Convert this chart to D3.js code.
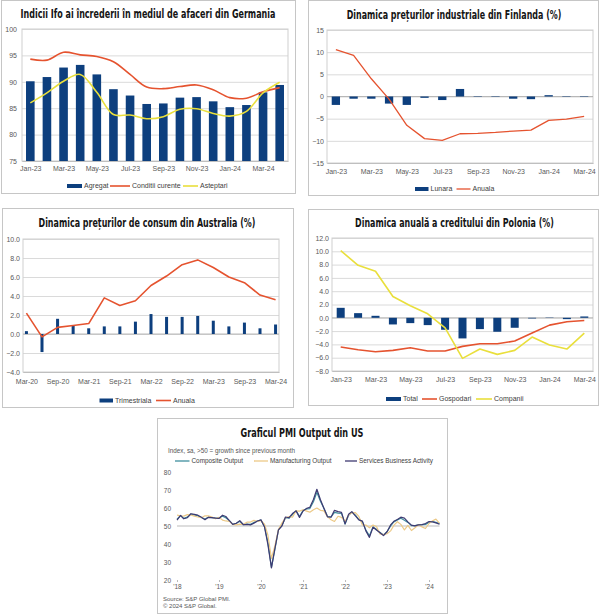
<!DOCTYPE html>
<html><head><meta charset="utf-8">
<script src="https://cdn.jsdelivr.net/npm/d3@7"></script>
<style>body{margin:0;background:#fff;} svg{display:block;font-family:"Liberation Sans",Arial,sans-serif;}</style>
</head><body><svg id="c" width="600" height="614"></svg>
<script>
// ---------- DATA ----------
// Germany (Ifo)
const deMonths = ["Jan-23","Feb-23","Mar-23","Apr-23","May-23","Jun-23","Jul-23","Aug-23","Sep-23","Oct-23","Nov-23","Dec-23","Jan-24","Feb-24","Mar-24","Apr-24"];
const deAgregat = [90.1, 90.9, 92.7, 93.2, 91.4, 88.6, 87.4, 85.8, 85.9, 87.0, 87.1, 86.3, 85.2, 85.6, 88.0, 89.4];
const deConditii = [94.3, 94.1, 95.6, 95.1, 94.8, 93.8, 91.4, 89.0, 88.7, 89.1, 89.4, 88.5, 87.0, 86.9, 88.1, 88.9];
const deAsteptari = [86.0, 87.9, 90.1, 91.4, 88.0, 83.8, 83.7, 83.0, 83.4, 84.8, 84.9, 84.0, 83.5, 84.4, 87.9, 89.9];
const deYTicks = [75, 80, 85, 90, 95, 100];

// Finland industrial prices
const fiMonths = ["Jan-23","Feb-23","Mar-23","Apr-23","May-23","Jun-23","Jul-23","Aug-23","Sep-23","Oct-23","Nov-23","Dec-23","Jan-24","Feb-24","Mar-24"];
const fiLunara = [-1.9, -0.5, -0.5, -1.6, -1.9, -0.3, -0.8, 1.7, -0.1, -0.1, -0.5, -0.6, 0.3, -0.1, -0.1];
const fiAnuala = [10.6, 9.3, 4.0, -0.6, -6.5, -9.5, -9.9, -8.4, -8.3, -8.1, -7.8, -7.6, -5.4, -5.1, -4.5];
const fiYTicks = [-15, -10, -5, 0, 5, 10, 15];

// Australia CPI
const auQuarters = ["Mar-20","Jun-20","Sep-20","Dec-20","Mar-21","Jun-21","Sep-21","Dec-21","Mar-22","Jun-22","Sep-22","Dec-22","Mar-23","Jun-23","Sep-23","Dec-23","Mar-24"];
const auTrimestriala = [0.3, -1.9, 1.6, 0.9, 0.6, 0.8, 0.8, 1.3, 2.1, 1.8, 1.8, 1.9, 1.4, 0.8, 1.2, 0.6, 1.0];
const auAnuala = [2.2, -0.3, 0.7, 0.9, 1.1, 3.8, 3.0, 3.5, 5.1, 6.1, 7.3, 7.8, 7.0, 6.0, 5.4, 4.1, 3.6];
const auYTicks = [-4, -2, 0, 2, 4, 6, 8, 10];

// Poland credit
const plMonths = ["Jan-23","Feb-23","Mar-23","Apr-23","May-23","Jun-23","Jul-23","Aug-23","Sep-23","Oct-23","Nov-23","Dec-23","Jan-24","Feb-24","Mar-24"];
const plTotal = [1.5, 0.7, 0.3, -1.0, -0.8, -1.1, -1.8, -3.1, -1.7, -2.1, -1.5, -0.1, 0.05, -0.2, 0.2];
const plGospodari = [-4.4, -4.8, -5.1, -4.9, -4.5, -5.0, -5.0, -4.3, -3.9, -3.9, -3.5, -2.3, -1.1, -0.6, -0.4];
const plCompanii = [10.1, 7.9, 7.0, 3.2, 1.8, 0.6, -1.5, -6.1, -4.7, -5.5, -4.9, -2.9, -4.1, -4.7, -2.3];
const plYTicks = [-8, -6, -4, -2, 0, 2, 4, 6, 8, 10, 12];

// US PMI (monthly, Jan 2018 - Apr 2024)
const pmiStart = new Date(2018, 0, 1);
const pmiComposite = [
 53.8,55.8,54.2,54.9,56.6,56.2,55.7,54.7,53.9,54.9,54.7,54.4,
 54.4,55.5,54.6,53.0,50.9,51.5,52.6,50.7,51.0,50.9,52.0,52.7,
 53.3,49.6,40.9,27.0,37.0,47.9,50.3,54.6,54.3,56.3,58.6,55.3,
 58.7,59.5,59.7,63.5,68.7,63.7,59.9,55.4,55.0,57.6,57.2,57.0,
 51.1,55.9,57.7,56.0,53.6,52.3,47.7,44.6,49.5,48.2,46.4,45.0,
 46.8,50.1,52.3,53.4,54.3,53.2,52.0,50.2,50.2,50.7,50.7,50.9,
 52.0,52.5,52.1,51.3];
const pmiManufacturing = [
 56.0,55.7,55.5,56.3,56.2,55.5,55.0,54.6,55.7,55.6,55.0,54.0,
 54.8,53.3,52.8,52.6,50.9,50.6,51.0,50.9,52.1,52.2,53.1,52.5,
 52.9,51.0,45.0,32.0,39.0,48.0,51.6,54.6,55.2,54.9,58.4,58.3,
 59.0,58.3,57.7,59.0,60.0,58.7,58.4,55.2,53.5,52.5,55.4,54.8,
 52.6,56.1,57.3,57.4,55.3,50.6,50.5,49.0,50.5,49.7,45.6,45.2,
 45.7,47.3,50.3,52.4,50.9,47.8,50.3,47.5,49.0,50.7,49.5,48.6,
 51.4,52.9,53.8,51.5];
const pmiServices = [
 53.3,55.9,54.0,54.6,56.8,56.5,56.0,54.8,53.5,54.8,54.7,54.4,
 54.2,56.0,55.3,53.0,50.9,51.5,53.0,50.7,50.9,50.6,51.6,52.8,
 53.4,49.4,39.8,26.7,37.5,47.9,50.0,55.0,54.6,56.9,58.4,54.8,
 58.3,59.8,60.4,64.7,70.4,64.6,59.9,55.1,54.9,58.7,58.0,57.6,
 51.2,56.5,58.0,55.6,53.4,52.7,47.3,43.7,49.3,47.8,46.2,44.7,
 46.8,50.6,52.6,53.6,54.9,54.4,52.3,50.5,50.1,50.6,50.8,51.4,
 52.5,52.3,51.7,51.0];
const pmiYTicks = [20, 30, 40, 50, 60, 70, 80];
const pmiYearLabels = ["'18","'19","'20","'21","'22","'23","'24"];

// ---------- DRAW ----------
const svg = d3.select("#c");
const NAVY = "#0d3f7e", RED = "#e5532f", YEL = "#e9df3c";
const TITLE_FONT = "'Liberation Sans Narrow','Arial Narrow','DejaVu Sans Condensed',sans-serif";

function frame(box){
  svg.append("rect").attr("x",box[0]).attr("y",box[1]).attr("width",box[2]).attr("height",box[3])
    .attr("fill","#fff").attr("stroke","#c6c6c6");
}
function title(txt, x, y, len){
  const t = svg.append("text").attr("x",0).attr("y",0).attr("text-anchor","middle")
    .attr("font-family",TITLE_FONT).attr("font-weight","bold").attr("font-size",12.5)
    .attr("fill","#151515").text(txt);
  const w = t.node().getComputedTextLength();
  t.attr("transform",`translate(${x},${y}) scale(${len/w},1)`);
}
function legend(items, y){
  items.forEach(it=>{
    if(it.type==="bar"){
      svg.append("rect").attr("x",it.x0).attr("y",y-2).attr("width",it.x1-it.x0).attr("height",4).attr("fill",it.color);
    } else {
      svg.append("line").attr("x1",it.x0).attr("x2",it.x1).attr("y1",y).attr("y2",y)
        .attr("stroke",it.color).attr("stroke-width",it.w||1.6);
    }
    svg.append("text").attr("x",it.x1+2).attr("y",y+2.4).attr("font-size",it.fs||7)
      .attr("fill","#404040").text(it.label);
  });
}

function panel(cfg){
  frame(cfg.box);
  title(cfg.title, cfg.titleX, cfg.titleY, cfg.titleLen);
  const [l,r,t,b] = cfg.plot;
  const x = d3.scalePoint().domain(cfg.cats).range([l,r]).padding(cfg.pad);
  const y = d3.scaleLinear().domain(d3.extent(cfg.yTicks)).range([b,t]);
  const g = svg.append("g");
  const ya = g.append("g").attr("transform",`translate(${l},0)`)
    .call(d3.axisLeft(y).tickValues(cfg.yTicks).tickSize(-(r-l)).tickPadding(cfg.yPad).tickFormat(cfg.yFmt));
  ya.select(".domain").remove();
  ya.selectAll("line").attr("stroke","#dadada");
  ya.selectAll("text").attr("font-size",7).attr("fill","#595959").attr("font-family","'Liberation Sans',Arial,sans-serif");
  g.append("rect").attr("x",l).attr("y",t).attr("width",r-l).attr("height",b-t).attr("fill","none").attr("stroke","#cfcfcf");
  const xa = g.append("g").attr("transform",`translate(0,${b})`)
    .call(d3.axisBottom(x).tickValues(cfg.cats.filter((d,i)=>i%cfg.every===0)).tickSize(0).tickPadding(cfg.xPad));
  xa.select(".domain").attr("stroke","#bfbfbf");
  xa.selectAll("text").attr("font-size",7).attr("fill","#595959").attr("font-family","'Liberation Sans',Arial,sans-serif");
  const base = cfg.base;
  if(base !== d3.min(cfg.yTicks)){
    g.append("line").attr("x1",l).attr("x2",r).attr("y1",y(base)).attr("y2",y(base)).attr("stroke","#a8a8a8").attr("stroke-width",0.8);
  }
  g.selectAll(".bar").data(cfg.bars).join("rect")
    .attr("x",(d,i)=>x(cfg.cats[i])-cfg.bw/2)
    .attr("y",d=>Math.min(y(d),y(base)))
    .attr("width",cfg.bw)
    .attr("height",d=>Math.abs(y(d)-y(base)))
    .attr("fill",NAVY);
  cfg.lines.forEach(ln=>{
    g.append("path").datum(ln.values)
      .attr("d",d3.line().x((d,i)=>x(cfg.cats[i])).y(d=>y(d)).curve(ln.curve||d3.curveLinear))
      .attr("fill","none").attr("stroke",ln.color).attr("stroke-width",ln.w||1.5).attr("stroke-linejoin","round");
  });
  legend(cfg.legend, cfg.legendY);
}

// Panel 1 - Germany
panel({
  box:[1.5,0.5,294,193], title:"Indicii Ifo ai încrederii în mediul de afaceri din Germania",
  titleX:148, titleY:18.4, titleLen:255,
  plot:[22,288,29,161], cats:deMonths, pad:0.5, yTicks:deYTicks, yFmt:d3.format("d"), yPad:5, xPad:5.5,
  every:2, base:75, bars:deAgregat, bw:8.6,
  lines:[{values:deConditii,color:RED,curve:d3.curveCatmullRom,w:1.6},{values:deAsteptari,color:YEL,curve:d3.curveCatmullRom,w:1.6}],
  legendY:186,
  legend:[{type:"bar",x0:67,x1:82,color:NAVY,label:"Agregat"},
          {type:"line",x0:110,x1:130,color:RED,label:"Conditii curente"},
          {type:"line",x0:183,x1:198,color:YEL,label:"Asteptari"}]
});

// Panel 2 - Finland
panel({
  box:[308.5,0.5,290,195], title:"Dinamica prețurilor industriale din Finlanda (%)",
  titleX:454, titleY:18.6, titleLen:215,
  plot:[327,593,30,163], cats:fiMonths, pad:0.5, yTicks:fiYTicks, yFmt:d3.format("d"), yPad:3, xPad:6.5,
  every:2, base:0, bars:fiLunara, bw:8.3,
  lines:[{values:fiAnuala,color:RED,w:1.3}],
  legendY:189,
  legend:[{type:"bar",x0:415,x1:428.5,color:NAVY,label:"Lunara"},
          {type:"line",x0:456.5,x1:470.5,color:RED,label:"Anuala",w:1.3}]
});

// Panel 3 - Australia
panel({
  box:[2.5,208.5,291,199], title:"Dinamica prețurilor de consum din Australia (%)",
  titleX:147, titleY:226.6, titleLen:217,
  plot:[23,279,239,372], cats:auQuarters, pad:0.22, yTicks:auYTicks, yFmt:d3.format(".1f"), yPad:3, xPad:7.5,
  every:2, base:0, bars:auTrimestriala, bw:3,
  lines:[{values:auAnuala,color:RED,w:1.6}],
  legendY:400.5,
  legend:[{type:"bar",x0:99.5,x1:113,color:NAVY,label:"Trimestriala"},
          {type:"line",x0:156,x1:171,color:RED,label:"Anuala"}]
});

// Panel 4 - Poland
panel({
  box:[308.5,209.5,290,196], title:"Dinamica anuală a creditului din Polonia (%)",
  titleX:454.5, titleY:226.6, titleLen:199,
  plot:[332,593,238,371], cats:plMonths, pad:0.5, yTicks:plYTicks, yFmt:d3.format(".1f"), yPad:3, xPad:6.5,
  every:2, base:0, bars:plTotal, bw:8,
  lines:[{values:plGospodari,color:RED,w:1.6},{values:plCompanii,color:YEL,w:1.6}],
  legendY:399,
  legend:[{type:"bar",x0:386,x1:401,color:NAVY,label:"Total"},
          {type:"line",x0:422,x1:437,color:RED,label:"Gospodari"},
          {type:"line",x0:476,x1:492,color:YEL,label:"Companii"}]
});

// Panel 5 - US PMI
(function(){
  frame([157.5,418.5,290,195]);
  title("Graficul PMI Output din US", 302, 436.5, 123);
  svg.append("text").attr("x",168).attr("y",453).attr("font-size",6.3).attr("fill","#555")
    .text("Index, sa, >50 = growth since previous month");
  const l=177, r=439.5, t=472, b=580;
  const months = d3.timeMonth.range(pmiStart, d3.timeMonth.offset(pmiStart, pmiComposite.length));
  const x = d3.scaleTime().domain([months[0], months[months.length-1]]).range([l,r]);
  const y = d3.scaleLinear().domain(d3.extent(pmiYTicks)).range([b,t]);
  const ya = svg.append("g").attr("transform",`translate(${l},0)`)
    .call(d3.axisLeft(y).tickValues(pmiYTicks).tickSize(0).tickPadding(6));
  ya.select(".domain").remove();
  ya.selectAll("text").attr("font-size",6.5).attr("fill","#595959");
  const years = d3.timeYear.range(new Date(2018,0,1), new Date(2024,1,1));
  const xa = svg.append("g").attr("transform",`translate(0,${b})`)
    .call(d3.axisBottom(x).tickValues(years).tickSize(2).tickPadding(2.5).tickFormat((d,i)=>pmiYearLabels[i]));
  xa.select(".domain").remove();
  xa.selectAll("line").attr("stroke","#bbb");
  xa.selectAll("text").attr("font-size",6.5).attr("fill","#595959");
  svg.append("line").attr("x1",l).attr("x2",r).attr("y1",y(50)).attr("y2",y(50)).attr("stroke","#a9a9a9").attr("stroke-width",0.8);
  const series = [
    {v:pmiComposite,c:"#3f8e9e"},
    {v:pmiManufacturing,c:"#ecc987"},
    {v:pmiServices,c:"#3e3a72"}];
  series.forEach(s=>{
    svg.append("path").datum(s.v)
      .attr("d",d3.line().x((d,i)=>x(months[i])).y(d=>y(d)))
      .attr("fill","none").attr("stroke",s.c).attr("stroke-width",1.2).attr("stroke-linejoin","round");
  });
  legend([{type:"line",x0:175,x1:189.5,color:"#3f8e9e",label:"Composite Output",fs:6.4,w:1.3},
          {type:"line",x0:254,x1:268,color:"#ecc987",label:"Manufacturing Output",fs:6.4,w:1.3},
          {type:"line",x0:345,x1:357,color:"#3e3a72",label:"Services Business Activity",fs:6.4,w:1.3}], 461);
  svg.append("text").attr("x",163).attr("y",601).attr("font-size",6).attr("fill","#555").text("Source: S&P Global PMI.");
  svg.append("text").attr("x",163).attr("y",608.3).attr("font-size",6).attr("fill","#555").text("© 2024 S&P Global.");
})();
</script></body></html>
